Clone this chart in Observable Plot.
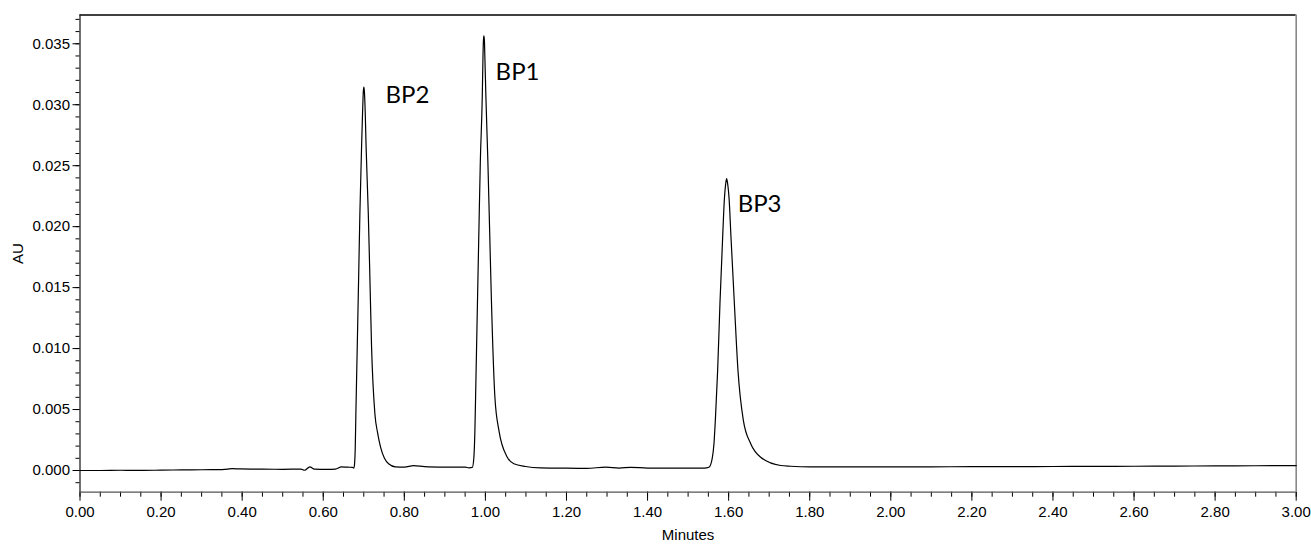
<!DOCTYPE html>
<html>
<head>
<meta charset="utf-8">
<script src="https://cdn.jsdelivr.net/npm/d3@7"></script>
<script src="https://cdn.jsdelivr.net/npm/@observablehq/plot@0.6"></script>
<style>
  html, body { margin: 0; padding: 0; background: #fff; }
</style>
</head>
<body>
<div id="chart"></div>
<script>
// Retention time (minutes)
const times = [
  0.000, 0.050, 0.100, 0.150, 0.200, 0.250, 0.300, 0.340, 0.365, 0.375, 0.395, 0.450, 0.500, 0.545, 0.554, 0.567, 0.578, 0.610, 0.630, 0.645, 0.660, 0.672,
  0.6756, 0.6773, 0.6790, 0.6805, 0.6839, 0.6872, 0.6904, 0.6946, 0.6970, 0.6988, 0.7002, 0.7016, 0.7036, 0.7057, 0.7111, 0.7152, 0.7192, 0.7274, 0.7340, 0.7414, 0.7510, 0.7612, 0.7780,
  0.800, 0.823, 0.850, 0.900, 0.950, 0.960,
  0.9677, 0.9716, 0.9741, 0.9758, 0.9807, 0.9840, 0.9874, 0.9923, 0.9940, 0.9952, 0.9963, 0.9975, 0.9987, 1.0012, 1.0062, 1.0104, 1.0146, 1.0234, 1.0333, 1.0540, 1.0703, 1.0992, 1.1362,
  1.200, 1.250, 1.297, 1.330, 1.358, 1.400, 1.450, 1.500, 1.540,
  1.5514, 1.5595, 1.5638, 1.5672, 1.5729, 1.5786, 1.5853, 1.5894, 1.5931, 1.5951, 1.5972, 1.6013, 1.6057, 1.6141, 1.6230, 1.6363, 1.6544, 1.6790, 1.7284, 1.7530,
  1.800, 1.900, 2.000, 2.100, 2.200, 2.300, 2.400, 2.500, 2.600, 2.700, 2.800, 2.900, 3.000
];
// Absorbance (AU)
const au = [
  0.00000, 0.00000, 0.00002, 0.00001, 0.00003, 0.00005, 0.00006, 0.00007, 0.00012, 0.00015, 0.00013, 0.00011, 0.00010, 0.00011, 0.00002, 0.00030, 0.00012, 0.00010, 0.00012, 0.00030, 0.00027, 0.00026,
  0.00020, 0.00055, 0.00192, 0.00466, 0.01014, 0.01563, 0.02111, 0.02659, 0.02934, 0.03105, 0.03145, 0.03105, 0.02934, 0.02659, 0.02111, 0.01563, 0.01014, 0.00466, 0.00310, 0.00192, 0.00100, 0.00055, 0.00030,
  0.00028, 0.00040, 0.00032, 0.00028, 0.00027, 0.00022,
  0.00025, 0.00109, 0.00329, 0.00603, 0.01425, 0.01974, 0.02522, 0.03070, 0.03390, 0.03530, 0.03565, 0.03530, 0.03390, 0.03070, 0.02522, 0.01974, 0.01425, 0.00603, 0.00329, 0.00109, 0.00055, 0.00033, 0.00022,
  0.00019, 0.00018, 0.00027, 0.00020, 0.00026, 0.00020, 0.00019, 0.00019, 0.00020,
  0.00027, 0.00100, 0.00220, 0.00411, 0.00822, 0.01371, 0.01919, 0.02220, 0.02360, 0.02395, 0.02360, 0.02220, 0.01919, 0.01371, 0.00822, 0.00411, 0.00220, 0.00109, 0.00041, 0.00035,
  0.00030, 0.00030, 0.00029, 0.00030, 0.00031, 0.00031, 0.00033, 0.00034, 0.00035, 0.00036, 0.00038, 0.00039, 0.00040
];

// Peak labels
const peakNames = ["BP2", "BP1", "BP3"];
const peakLabelTime = [0.7538, 1.0252, 1.6223];
const peakLabelAU = [0.0308, 0.03266, 0.02184];

// Tick values
const xMajor = [0, 0.2, 0.4, 0.6, 0.8, 1.0, 1.2, 1.4, 1.6, 1.8, 2.0, 2.2, 2.4, 2.6, 2.8, 3.0];
const xMinor = d3.range(0, 61).map(i => i * 0.05);
const yMajor = [0, 0.005, 0.010, 0.015, 0.020, 0.025, 0.030, 0.035];
const yMinor = d3.range(-1, 38).map(i => i * 0.001);

const series = times.map((t, i) => ({t, v: au[i]}));
const labels = peakNames.map((name, i) => ({name, t: peakLabelTime[i], v: peakLabelAU[i]}));

const yDomain = [-0.00178, 0.03736];
const xDomain = [0, 3];

const chart = Plot.plot({
  width: 1311,
  height: 545,
  marginLeft: 79.5,
  marginRight: 15.3,
  marginTop: 14.5,
  marginBottom: 53.3,
  style: {fontFamily: "'Liberation Sans', Arial, sans-serif", fontSize: "15px", background: "#fff", color: "#000"},
  x: {domain: xDomain},
  y: {domain: yDomain},
  marks: [
    Plot.axisY(yMinor, {tickSize: 4, tickFormat: () => "", label: null}),
    Plot.axisY(yMajor, {tickSize: 7, tickPadding: 3, tickFormat: d3.format(".3f"), label: "AU", labelAnchor: "center", labelArrow: "none", labelOffset: 68}),
    Plot.axisX(xMinor, {tickSize: 5, tickFormat: () => "", label: null}),
    Plot.axisX(xMajor, {tickSize: 9, tickPadding: 5, tickFormat: d3.format(".2f"), label: "Minutes", labelAnchor: "center", labelArrow: "none", labelOffset: 48}),
    Plot.ruleY([yDomain[1]], {stroke: "#000", strokeWidth: 1.3}),
    Plot.ruleY([yDomain[0]], {stroke: "#555", strokeWidth: 1.3}),
    Plot.ruleX([xDomain[1]], {stroke: "#888", strokeWidth: 1.6}),
    Plot.ruleX([xDomain[0]], {stroke: "#222", strokeWidth: 1.3}),
    Plot.line(series, {x: "t", y: "v", stroke: "#000", strokeWidth: 1.2, curve: "monotone-x"}),
    Plot.text(labels, {x: "t", y: "v", text: "name", textAnchor: "start", lineAnchor: "middle", fontFamily: "Lato, 'Open Sans', sans-serif", fontSize: 24, fill: "#000"})
  ]
});
document.getElementById("chart").appendChild(chart);
</script>
</body>
</html>
